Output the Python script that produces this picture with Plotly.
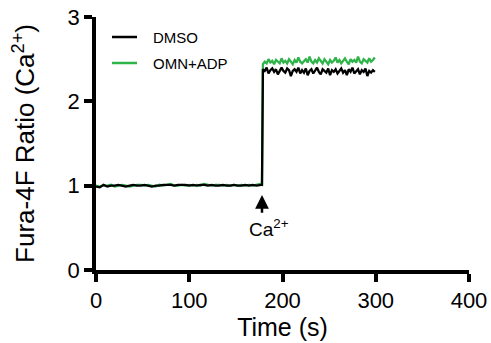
import plotly.graph_objects as go

# ---- data ----
base_time = [0, 4, 8, 12, 16, 20, 24, 28, 32, 36, 40, 44, 48, 52, 56, 60, 64, 68, 72, 76,
             80, 84, 88, 92, 96, 100, 104, 108, 112, 116, 120, 124, 128, 132, 136, 140,
             144, 148, 152, 156, 160, 164, 168, 172, 176, 178]
dmso_base = [0.99, 0.98, 1.01, 0.99, 1.00, 1.00, 1.01, 1.00, 0.99, 1.00, 1.01, 1.00, 1.00,
             1.01, 1.00, 0.99, 1.00, 1.00, 1.01, 1.01, 1.01, 1.00, 1.01, 1.01, 1.01, 1.00,
             1.01, 1.00, 1.01, 1.01, 1.00, 1.01, 1.00, 1.00, 1.01, 1.00, 1.00, 1.01, 1.00,
             1.00, 1.01, 1.00, 1.01, 1.00, 1.01, 1.01]
omn_base = [1.00, 0.99, 1.00, 1.00, 1.01, 0.99, 1.00, 1.01, 1.00, 0.99, 1.00, 1.01, 1.01,
            1.00, 1.01, 1.00, 0.99, 1.01, 1.00, 1.01, 1.02, 1.00, 1.00, 1.01, 1.00, 1.01,
            1.00, 1.01, 1.00, 1.02, 1.01, 1.00, 1.01, 1.01, 1.00, 1.01, 1.00, 1.01, 1.00,
            1.01, 1.00, 1.01, 1.00, 1.01, 1.02, 1.01]

plat_time = [179, 181, 183, 185, 187, 189, 191, 193, 195, 197, 199, 201, 203, 205, 207,
             209, 211, 213, 215, 217, 219, 221, 223, 225, 227, 229, 231, 233, 235, 237,
             239, 241, 243, 245, 247, 249, 251, 253, 255, 257, 259, 261, 263, 265, 267,
             269, 271, 273, 275, 277, 279, 281, 283, 285, 287, 289, 291, 293, 295, 297, 299]
dmso_plat = [2.38, 2.36, 2.40, 2.33, 2.37, 2.39, 2.35, 2.38, 2.32, 2.37, 2.40, 2.36, 2.34,
             2.39, 2.37, 2.30, 2.36, 2.38, 2.35, 2.40, 2.33, 2.37, 2.34, 2.39, 2.31, 2.36,
             2.38, 2.33, 2.37, 2.40, 2.35, 2.32, 2.38, 2.36, 2.34, 2.39, 2.31, 2.37, 2.35,
             2.38, 2.33, 2.36, 2.39, 2.34, 2.37, 2.31, 2.38, 2.35, 2.40, 2.33, 2.36, 2.38,
             2.32, 2.37, 2.35, 2.39, 2.30, 2.36, 2.34, 2.37, 2.35]
omn_plat = [2.44, 2.47, 2.45, 2.50, 2.46, 2.48, 2.44, 2.49, 2.47, 2.45, 2.51, 2.46, 2.48,
            2.45, 2.50, 2.47, 2.44, 2.49, 2.46, 2.52, 2.47, 2.45, 2.48, 2.50, 2.46, 2.53,
            2.47, 2.45, 2.49, 2.46, 2.51, 2.48, 2.45, 2.50, 2.47, 2.44, 2.49, 2.46, 2.48,
            2.52, 2.46, 2.49, 2.45, 2.48, 2.51, 2.47, 2.44, 2.50, 2.47, 2.49, 2.46, 2.53,
            2.47, 2.45, 2.50, 2.48, 2.46, 2.51, 2.47, 2.49, 2.52]

series_names = ["DMSO", "OMN+ADP"]
x_ticks = [0, 100, 200, 300, 400]
y_ticks = [0, 1, 2, 3]

GREEN = "#2fb44a"
FONT = "Liberation Sans, Arial, sans-serif"
colors = {"DMSO": "black", "OMN+ADP": GREEN}

W, H = 491, 343
ML, MR, MT, MB = 96, 22, 17, 73
PW, PH = W - ML - MR, H - MT - MB

fig = go.Figure()
fig.add_trace(go.Scatter(x=base_time + plat_time, y=omn_base + omn_plat, mode="lines",
                         name="OMN+ADP", line=dict(color=GREEN, width=2.3)))
fig.add_trace(go.Scatter(x=base_time + plat_time, y=dmso_base + dmso_plat, mode="lines",
                         name="DMSO", line=dict(color="black", width=2.3)))

# manual legend (top-left)
for i, name in enumerate(series_names):
    yp = 37 + 26 * i  # pixel y from figure top
    yy = 1 - (yp - MT) / PH
    x0 = (112 - ML) / PW
    x1 = (137 - ML) / PW
    fig.add_shape(type="line", xref="paper", yref="paper", x0=x0, x1=x1, y0=yy, y1=yy,
                  line=dict(color=colors[name], width=2.5))
    fig.add_annotation(xref="paper", yref="paper", x=(151 - ML) / PW, y=yy,
                       xanchor="left", yanchor="middle", text=name, showarrow=False,
                       font=dict(size=15, color="black", family=FONT))

fig.add_annotation(x=178, y=0.89, ax=178, ay=0.66, axref="x", ayref="y", text="",
                   showarrow=True, arrowhead=2, arrowsize=1.1, arrowwidth=2.5,
                   arrowcolor="black")
fig.add_annotation(x=186, y=0.5, text="Ca<sup>2+</sup>", showarrow=False,
                   font=dict(size=19, color="black", family=FONT))

fig.update_layout(
    width=W, height=H,
    margin=dict(l=ML, r=MR, t=MT, b=MB),
    plot_bgcolor="white", paper_bgcolor="white",
    font=dict(family=FONT, color="black"),
    showlegend=False,
    xaxis=dict(range=[0, 400], tickvals=x_ticks, showline=True, linewidth=3.5,
               linecolor="black", ticks="outside", ticklen=8, tickwidth=3.5,
               tickcolor="black", showgrid=False, zeroline=False, automargin=False,
               ticklabeloverflow="allow",
               tickfont=dict(size=22), title=dict(text="Time (s)", font=dict(size=25),
                                                   standoff=6)),
    yaxis=dict(range=[0, 3], tickvals=y_ticks, showline=True, linewidth=3.5,
               linecolor="black", ticks="outside", ticklen=8, tickwidth=3.5,
               tickcolor="black", showgrid=False, zeroline=False, automargin=False,
               ticklabeloverflow="allow",
               tickfont=dict(size=22),
               title=dict(text="Fura-4F Ratio (Ca<sup>2+</sup>)", font=dict(size=26),
                          standoff=26)),
)

fig.write_html("out.html", config={"displayModeBar": False},
               post_script="document.body.style.margin='0';document.body.style.overflow='hidden';")
